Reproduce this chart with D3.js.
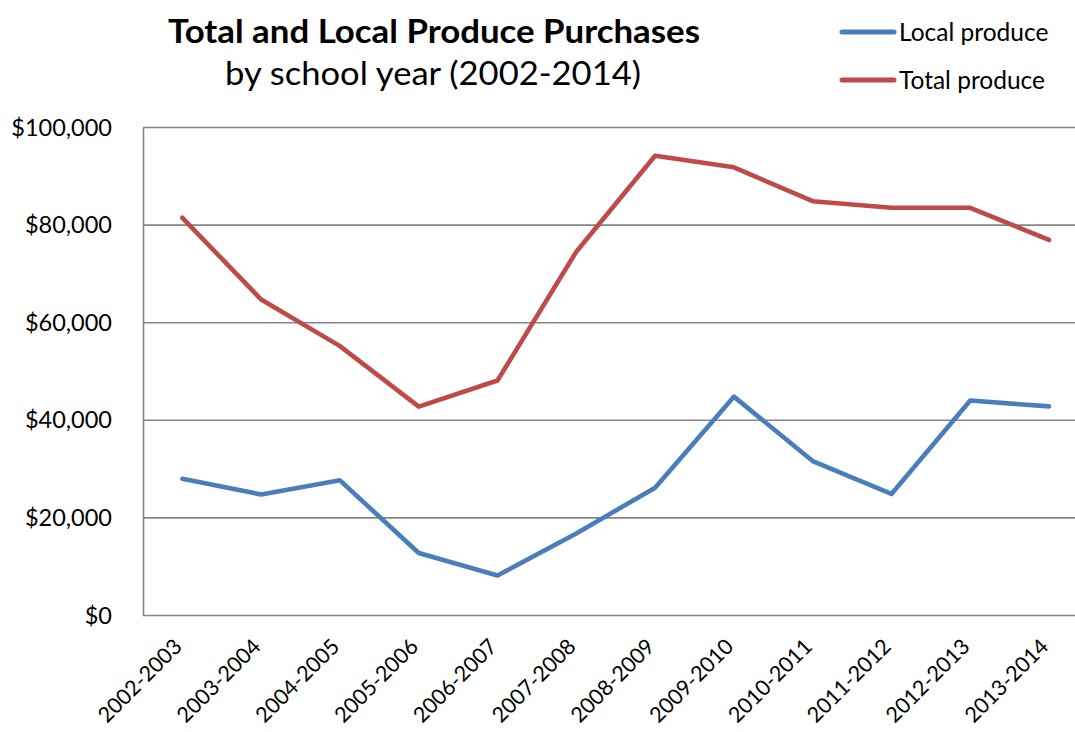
<!DOCTYPE html>
<html>
<head>
<meta charset="utf-8">
<script src="https://cdn.jsdelivr.net/npm/d3@7"></script>
<style>
  html, body { margin: 0; padding: 0; background: #fff; }
  svg { display: block; }
  text { font-family: Lato, "Open Sans", sans-serif; fill: #000; }
</style>
</head>
<body>
<svg id="chart" width="1075" height="732"></svg>
<script>
const categories = ["2002-2003","2003-2004","2004-2005","2005-2006","2006-2007","2007-2008",
                    "2008-2009","2009-2010","2010-2011","2011-2012","2012-2013","2013-2014"];
const localProduce = [28000, 24800, 27700, 12800, 8200, 16800, 26200, 44850, 31650, 24900, 44050, 42850];
const totalProduce = [81500, 64750, 55200, 42800, 48150, 74550, 94200, 91850, 84900, 83550, 83550, 76950];
const yTicks = [0, 20000, 40000, 60000, 80000, 100000];
const seriesNames = ["Local produce", "Total produce"];
const seriesColors = ["#4a7ebb", "#be4b48"];

const svg = d3.select("#chart");
const mLeft = 143, mRight = 1088.4, mTop = 127.5, mBottom = 615.5;

const x = d3.scalePoint().domain(categories).range([mLeft, mRight]).padding(0.5);
const y = d3.scaleLinear().domain([0, 100000]).range([mBottom, mTop]);

// gridlines
svg.append("g").selectAll("line").data(yTicks).join("line")
  .attr("x1", mLeft).attr("x2", 1075)
  .attr("y1", d => y(d)).attr("y2", d => y(d))
  .attr("stroke", "#868686").attr("stroke-width", 1.6);

// y axis
const yAxis = d3.axisLeft(y).tickValues(yTicks).tickSize(0).tickPadding(31)
  .tickFormat(d => "$" + d3.format(",")(d));
const gy = svg.append("g").attr("transform", `translate(${mLeft},0)`).call(yAxis);
gy.select(".domain").attr("stroke", "#868686").attr("stroke-width", 1.6);
gy.selectAll("text").style("font-size", "23.5px").style("font-family", "Lato, sans-serif").attr("fill", "#000");

// x axis
const xAxis = d3.axisBottom(x).tickSize(0).tickPadding(0);
const gx = svg.append("g").attr("transform", `translate(0,${mBottom})`).call(xAxis);
gx.select(".domain").remove();
gx.selectAll("text")
  .style("font-size", "21.5px").style("font-family", "Lato, sans-serif").attr("fill", "#000")
  .attr("text-anchor", "end")
  .attr("dy", "0.35em")
  .attr("transform", "translate(-5,27) rotate(-45)");

// lines
const line = d3.line().x((d, i) => x(categories[i])).y(d => y(d));
[localProduce, totalProduce].forEach((vals, k) => {
  svg.append("path").datum(vals)
    .attr("d", line)
    .attr("fill", "none")
    .attr("stroke", seriesColors[k])
    .attr("stroke-width", 4.6)
    .attr("stroke-linejoin", "round")
    .attr("stroke-linecap", "round");
});

// title
svg.append("text").attr("x", 434).attr("y", 43).attr("text-anchor", "middle")
  .style("font-size", "33px").style("font-weight", "bold")
  .attr("textLength", 532).attr("lengthAdjust", "spacingAndGlyphs")
  .text("Total and Local Produce Purchases");
svg.append("text").attr("x", 433).attr("y", 85).attr("text-anchor", "middle")
  .style("font-size", "33px")
  .attr("textLength", 416).attr("lengthAdjust", "spacingAndGlyphs")
  .text("by school year (2002-2014)");

// legend
const lg = svg.append("g");
seriesNames.forEach((name, k) => {
  const ly = 32 + k * 48;
  lg.append("line").attr("x1", 842).attr("x2", 894).attr("y1", ly).attr("y2", ly)
    .attr("stroke", seriesColors[k]).attr("stroke-width", 5).attr("stroke-linecap", "round");
  lg.append("text").attr("x", 899).attr("y", ly).attr("dy", "0.35em")
    .style("font-size", "24.5px").text(name);
});
</script>
</body>
</html>
